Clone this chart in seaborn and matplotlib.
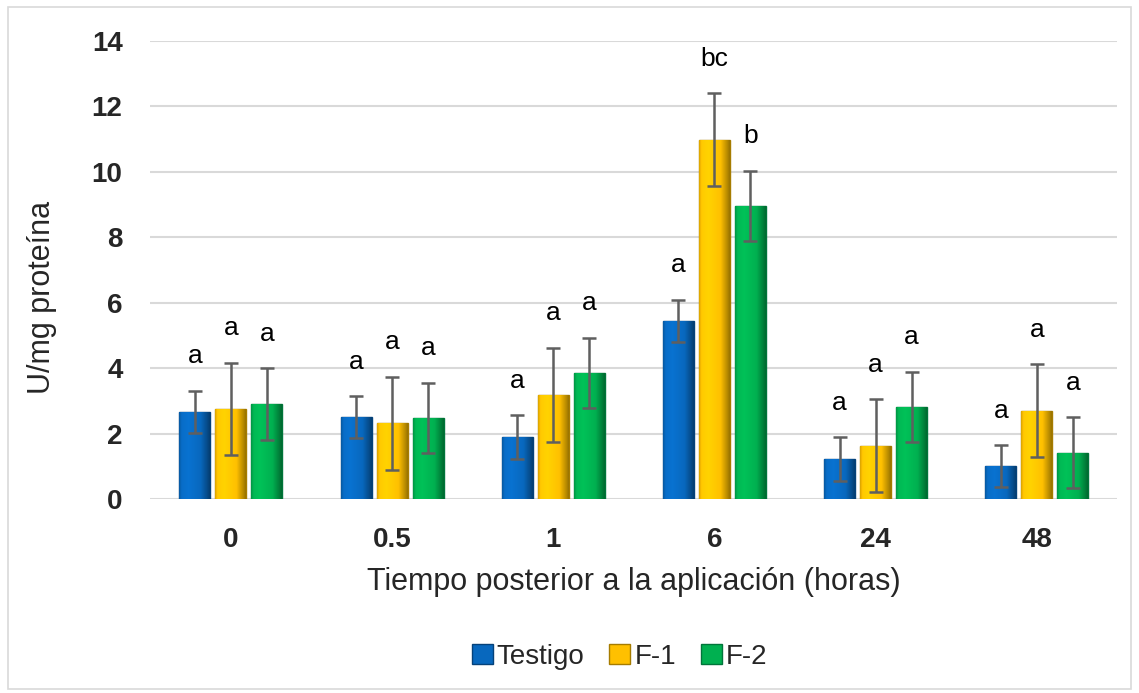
import numpy as np
import pandas as pd
import seaborn as sns
import matplotlib
matplotlib.use("Agg")
import matplotlib.pyplot as plt
from matplotlib.patches import Patch, Rectangle
from matplotlib.colors import to_rgb

# ---- data ----
tiempos = ["0", "0.5", "1", "6", "24", "48"]
series = ["Testigo", "F-1", "F-2"]
testigo = [2.66, 2.50, 1.90, 5.44, 1.22, 1.00]
f1 = [2.75, 2.32, 3.18, 10.98, 1.62, 2.69]
f2 = [2.90, 2.47, 3.85, 8.96, 2.81, 1.41]
err_testigo = [0.65, 0.64, 0.67, 0.65, 0.66, 0.64]
err_f1 = [1.42, 1.42, 1.44, 1.42, 1.42, 1.42]
err_f2 = [1.09, 1.08, 1.08, 1.07, 1.08, 1.08]
let_testigo = ["a", "a", "a", "a", "a", "a"]
let_f1 = ["a", "a", "a", "bc", "a", "a"]
let_f2 = ["a", "a", "a", "b", "a", "a"]

colors = ["#0868BE", "#FFC000", "#00B050"]
edges = ["#05427A", "#A67C00", "#00753A"]

vals = [testigo, f1, f2]
errs = [err_testigo, err_f1, err_f2]
lets = [let_testigo, let_f1, let_f2]

df = pd.DataFrame({
    "Tiempo": tiempos * 3,
    "Serie": [s for s in series for _ in tiempos],
    "Valor": testigo + f1 + f2,
})

sns.set_theme(style="white")
plt.rcParams["font.family"] = ["Liberation Sans", "DejaVu Sans"]

fig = plt.figure(figsize=(11.39, 6.93), dpi=100)
ax = fig.add_axes([0.132, 0.280, 0.849, 0.661])

sns.barplot(data=df, x="Tiempo", y="Valor", hue="Serie", order=tiempos,
            hue_order=series, palette=colors, saturation=1, width=0.67, gap=0.14,
            errorbar=None, ax=ax, legend=False, zorder=3)

# horizontal shading profile to mimic the bevelled bars
u = np.linspace(0, 1, 60)
shade = np.interp(u, [0, 0.08, 0.3, 0.7, 0.92, 1.0], [0.85, 1.05, 1.1, 1.0, 0.72, 0.6])

bar_conts = list(ax.containers)
for i, cont in enumerate(bar_conts):
    xs = []
    base = np.array(to_rgb(colors[i]))
    grad = np.clip(base[None, None, :] * shade[None, :, None], 0, 1)
    for bar in cont:
        bar.set_edgecolor(edges[i])
        bar.set_linewidth(1.0)
        x0, w, h = bar.get_x(), bar.get_width(), bar.get_height()
        im = ax.imshow(grad, extent=[x0, x0 + w, 0, h], aspect="auto",
                       interpolation="bilinear", zorder=3.2)
        im.set_clip_path(bar)
        xs.append(x0 + w / 2)
    ax.errorbar(xs, vals[i], yerr=errs[i], fmt="none", ecolor="#5F5F5F",
                elinewidth=1.8, capsize=5, capthick=1.8, zorder=4)
    for x, v, e, t in zip(xs, vals[i], errs[i], lets[i]):
        ax.text(x, v + e + 1.05, t, ha="center", va="center",
                fontsize=19, color="black", zorder=5)

ax.set_ylim(0, 14)
ax.set_xlim(-0.5, 5.5)
ax.set_yticks(np.arange(0, 15, 2))
ax.yaxis.grid(True, color="#D9D9D9", linewidth=1.5, zorder=0)
ax.set_axisbelow(True)
for s in ax.spines.values():
    s.set_visible(False)
ax.tick_params(axis="both", length=0)
ax.tick_params(axis="y", pad=20)
ax.tick_params(axis="x", pad=20)
for lab in ax.get_yticklabels() + ax.get_xticklabels():
    lab.set_fontweight("bold")
    lab.set_fontsize(20)
ax.set_xlabel("Tiempo posterior a la aplicación (horas)", fontsize=22, labelpad=10)
ax.set_ylabel("U/mg proteína", fontsize=22)
ax.yaxis.set_label_coords(-0.097, 0.44)

handles = [Patch(facecolor=colors[i], edgecolor=edges[i], label=series[i]) for i in range(3)]
fig.legend(handles=handles, loc="center", bbox_to_anchor=(0.544, 0.052), ncol=3,
           frameon=False, fontsize=20, handlelength=0.75, handleheight=0.75,
           handletextpad=0.15, columnspacing=0.9, borderpad=0)

fig.patches.append(Rectangle((0.007, 0.006), 0.986, 0.984, transform=fig.transFigure,
                             fill=False, edgecolor="#D9D9D9", linewidth=1.2))

fig.savefig("out.png", dpi=100)
